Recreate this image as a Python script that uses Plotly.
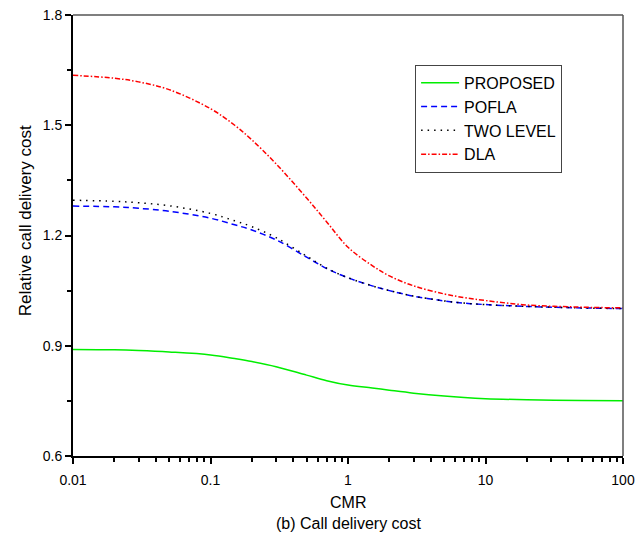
import plotly.graph_objects as go

# CMR values (x axis, log scale)
cmr = [0.01, 0.02, 0.03, 0.05, 0.1, 0.15, 0.2, 0.3, 0.5, 0.7,
       1, 1.5, 2, 3, 5, 7, 10, 20, 50, 100]

# relative call delivery cost
proposed = [0.890, 0.889, 0.887, 0.883, 0.875, 0.865, 0.857, 0.843, 0.820, 0.805,
            0.793, 0.785, 0.779, 0.771, 0.763, 0.759, 0.756, 0.753, 0.751, 0.750]
pofla = [1.280, 1.278, 1.274, 1.266, 1.247, 1.229, 1.215, 1.188, 1.141, 1.110,
         1.085, 1.063, 1.050, 1.035, 1.022, 1.016, 1.012, 1.007, 1.003, 1.001]
two_level = [1.296, 1.293, 1.289, 1.281, 1.260, 1.240, 1.224, 1.194, 1.144, 1.111,
             1.085, 1.063, 1.050, 1.035, 1.022, 1.016, 1.012, 1.007, 1.003, 1.001]
dla = [1.636, 1.628, 1.618, 1.597, 1.545, 1.500, 1.460, 1.395, 1.302, 1.237,
       1.168, 1.118, 1.090, 1.063, 1.041, 1.031, 1.023, 1.011, 1.005, 1.003]

FONT = "Liberation Sans, Arial, sans-serif"

fig = go.Figure()
fig.add_trace(go.Scatter(x=cmr, y=proposed, name="PROPOSED", mode="lines",
                         line=dict(color="#00ee00", width=1.5, shape="spline")))
fig.add_trace(go.Scatter(x=cmr, y=pofla, name="POFLA", mode="lines",
                         line=dict(color="#0000ff", width=1.5, dash="6px,4px", shape="spline")))
fig.add_trace(go.Scatter(x=cmr, y=two_level, name="TWO LEVEL", mode="lines",
                         line=dict(color="#000000", width=1.5, dash="1.5px,5px", shape="spline")))
fig.add_trace(go.Scatter(x=cmr, y=dla, name="DLA", mode="lines",
                         line=dict(color="#ff0000", width=1.5, dash="5px,2px,1.5px,2px", shape="spline")))

fig.update_layout(
    width=637, height=538,
    margin=dict(l=73, r=14, t=15, b=82),
    paper_bgcolor="white", plot_bgcolor="white",
    font=dict(family=FONT, size=14, color="black"),
    showlegend=True,
    legend=dict(x=0.622, y=0.887, xanchor="left", yanchor="top",
                bordercolor="#444444", borderwidth=1, bgcolor="white",
                itemwidth=38, font=dict(size=16, family=FONT)),
)

fig.update_xaxes(
    type="log", range=[-2, 2], dtick=1, automargin=False,
    showline=True, linecolor="black", linewidth=2,
    ticks="outside", ticklen=6, tickwidth=1.5, tickcolor="black",
    ticklabelstandoff=4,
    showgrid=False, zeroline=False,
    minor=dict(ticks="outside", ticklen=4, tickcolor="black", dtick="D1", showgrid=False),
    tickfont=dict(size=14, family=FONT),
)
fig.update_yaxes(
    range=[0.6, 1.8], dtick=0.3, tickformat=".1f", automargin=False,
    showline=True, linecolor="black", linewidth=2,
    ticks="outside", ticklen=6, tickwidth=1.5, tickcolor="black",
    showgrid=False, zeroline=False,
    minor=dict(ticks="outside", ticklen=4, tickcolor="black", dtick=0.15, showgrid=False),
    tickfont=dict(size=14, family=FONT),
)

# top and right frame lines
fig.add_shape(type="line", xref="paper", yref="paper", x0=0, x1=1, y0=1, y1=1,
              line=dict(color="#555555", width=1.5))
fig.add_shape(type="line", xref="paper", yref="paper", x0=1, x1=1, y0=0, y1=1,
              line=dict(color="#555555", width=1.5))

fig.add_annotation(text="CMR", xref="paper", yref="paper", x=0.5, y=-0.106,
                   showarrow=False, font=dict(size=16, family=FONT), yanchor="middle")
fig.add_annotation(text="(b) Call delivery cost", xref="paper", yref="paper", x=0.5, y=-0.152,
                   showarrow=False, font=dict(size=16, family=FONT), yanchor="middle")
fig.add_annotation(text="Relative call delivery cost", xref="paper", yref="paper",
                   x=-0.085, y=0.533, textangle=-90, showarrow=False,
                   font=dict(size=17, family=FONT), xanchor="center", yanchor="middle")

# page body has a default 8px margin; drop it so the figure sits at the corner
fig.write_html("out.html", config={"displayModeBar": False},
               post_script="document.body.style.margin='0px';")
